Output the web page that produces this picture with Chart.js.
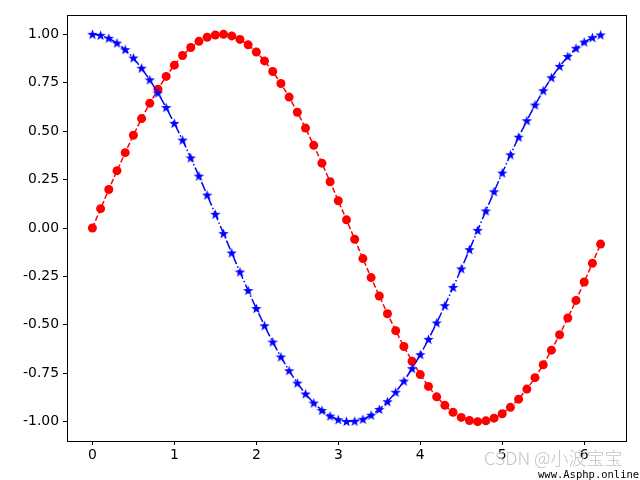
<!DOCTYPE html>
<html>
<head>
<meta charset="utf-8">
<script src="https://cdn.jsdelivr.net/npm/chart.js@4/dist/chart.umd.min.js"></script>
<style>
  html, body { margin: 0; padding: 0; background: #fff; }
  #wrap { position: relative; width: 640px; height: 480px; }
  canvas { position: absolute; left: 0; top: 0; }
  .wm1 { position: absolute; left: 484px; top: 444px; font-family: "Noto Sans CJK SC", "DejaVu Sans", sans-serif; font-size: 18px; font-weight: 300; color: #c4c4c4; white-space: nowrap; line-height: 26px; }
  .wm2 { position: absolute; left: 538px; top: 468px; font-family: "DejaVu Sans Mono", "Liberation Mono", monospace; font-size: 10.5px; color: #000; white-space: nowrap; }
</style>
</head>
<body>
<div id="wrap">
  <canvas id="c" width="640" height="480"></canvas>
  <div class="wm1">CSDN @小波宝宝</div>
  <div class="wm2">www.Asphp.online</div>
</div>
<script>
const xValues = [0.0,0.1,0.2,0.3,0.4,0.5,0.6,0.7,0.8,0.9,1.0,1.1,1.2,1.3,1.4,1.5,1.6,1.7,1.8,1.9,2.0,2.1,2.2,2.3,2.4,2.5,2.6,2.7,2.8,2.9,3.0,3.1,3.2,3.3,3.4,3.5,3.6,3.7,3.8,3.9,4.0,4.1,4.2,4.3,4.4,4.5,4.6,4.7,4.8,4.9,5.0,5.1,5.2,5.3,5.4,5.5,5.6,5.7,5.8,5.9,6.0,6.1,6.2];
const redValues = [0.000,0.100,0.199,0.296,0.389,0.479,0.565,0.644,0.717,0.783,0.841,0.891,0.932,0.964,0.985,0.997,1.000,0.992,0.974,0.946,0.909,0.863,0.808,0.746,0.676,0.598,0.516,0.427,0.335,0.239,0.141,0.042,-0.058,-0.158,-0.256,-0.351,-0.443,-0.530,-0.612,-0.688,-0.757,-0.818,-0.872,-0.916,-0.952,-0.978,-0.994,-1.000,-0.996,-0.982,-0.959,-0.926,-0.884,-0.832,-0.773,-0.706,-0.631,-0.551,-0.465,-0.374,-0.279,-0.182,-0.083];
const blueValues = [1.000,0.995,0.980,0.955,0.921,0.878,0.825,0.765,0.697,0.622,0.540,0.454,0.362,0.268,0.170,0.071,-0.029,-0.129,-0.227,-0.323,-0.416,-0.505,-0.589,-0.666,-0.737,-0.801,-0.857,-0.904,-0.942,-0.971,-0.990,-0.999,-0.998,-0.988,-0.967,-0.937,-0.897,-0.848,-0.791,-0.726,-0.654,-0.575,-0.490,-0.401,-0.307,-0.211,-0.112,-0.012,0.088,0.187,0.284,0.378,0.469,0.554,0.635,0.709,0.776,0.835,0.886,0.928,0.960,0.983,0.997];
const xTicks = [0,1,2,3,4,5,6];
const yTicks = [-1.00,-0.75,-0.50,-0.25,0.00,0.25,0.50,0.75,1.00];

function starCanvas(color, size) {
  const cv = document.createElement('canvas');
  cv.width = size; cv.height = size;
  const g = cv.getContext('2d');
  const cx = size / 2, cy = size / 2 + 0.4;
  const R = size / 2, r = R * 0.4;
  g.beginPath();
  for (let i = 0; i < 10; i++) {
    const rad = (i % 2 === 0) ? R : r;
    const a = -Math.PI / 2 + i * Math.PI / 5;
    const px = cx + rad * Math.cos(a), py = cy + rad * Math.sin(a);
    if (i === 0) g.moveTo(px, py); else g.lineTo(px, py);
  }
  g.closePath();
  g.fillStyle = color;
  g.fill();
  return cv;
}

const toXY = (ys) => xValues.map((x, i) => ({ x: x, y: ys[i] }));

const framePlugin = {
  id: 'frame',
  afterDraw(chart) {
    const a = chart.chartArea, ctx = chart.ctx;
    ctx.save();
    ctx.strokeStyle = '#000';
    ctx.lineWidth = 1;
    ctx.strokeRect(Math.round(a.left) + 0.5, Math.round(a.top) + 0.5, Math.round(a.right - a.left), Math.round(a.bottom - a.top));
    ctx.restore();
  }
};

const font = { family: 'DejaVu Sans', size: 13.9 };

new Chart(document.getElementById('c'), {
  type: 'line',
  data: {
    datasets: [
      {
        data: toXY(blueValues),
        borderColor: '#0000ff',
        backgroundColor: '#0000ff',
        borderWidth: 1.5,
        borderDash: [9.6, 2.4, 1.5, 2.4],
        pointStyle: starCanvas('#0000ff', 11),
        pointRadius: 5,
        fill: false,
        tension: 0
      },
      {
        data: toXY(redValues),
        borderColor: '#ff0000',
        backgroundColor: '#ff0000',
        borderWidth: 1.5,
        borderDash: [5.55, 2.4],
        pointStyle: 'circle',
        pointRadius: 4.5,
        pointBorderWidth: 0,
        fill: false,
        tension: 0
      }
    ]
  },
  options: {
    responsive: false,
    animation: false,
    events: [],
    layout: { padding: { left: 0, right: 14, top: 15, bottom: 0 } },
    plugins: { legend: { display: false }, tooltip: { enabled: false } },
    scales: {
      x: {
        type: 'linear',
        min: -0.31,
        max: 6.51,
        afterBuildTicks(scale) { scale.ticks = xTicks.map(v => ({ value: v })); },
        afterFit(scale) { scale.height = 39; },
        ticks: { color: '#000', font: font, padding: 2, maxRotation: 0, callback: v => String(v) },
        grid: { display: true, drawOnChartArea: false, drawTicks: true, tickLength: 4, tickColor: '#000', color: '#000' },
        border: { display: true, color: '#000', width: 1 }
      },
      y: {
        type: 'linear',
        min: -1.1,
        max: 1.1,
        afterBuildTicks(scale) { scale.ticks = yTicks.map(v => ({ value: v })); },
        afterFit(scale) { scale.width = 67; },
        ticks: { color: '#000', font: font, padding: 4, callback: v => Number(v).toFixed(2) },
        grid: { display: true, drawOnChartArea: false, drawTicks: true, tickLength: 4, tickColor: '#000', color: '#000' },
        border: { display: true, color: '#000', width: 1 }
      }
    }
  },
  plugins: [framePlugin]
});
</script>
</body>
</html>
